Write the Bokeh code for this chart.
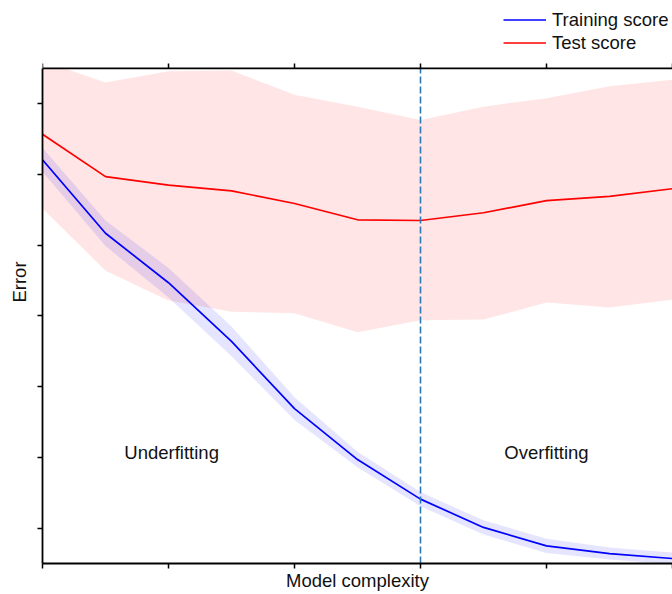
from bokeh.plotting import figure
from bokeh.models import Range1d, FixedTicker, Legend, LegendItem
from bokeh.core.properties import value
from bokeh.embed import file_html
from bokeh.resources import INLINE

# ---- data ----
complexity = [0, 1, 2, 3, 4, 5, 6, 7, 8, 9, 10]

test_score = [6.07, 5.47, 5.35, 5.27, 5.09, 4.86, 4.85, 4.96, 5.13, 5.19, 5.30]
test_upper = [7.11, 6.80, 6.96, 6.97, 6.63, 6.46, 6.27, 6.46, 6.58, 6.75, 6.84]
test_lower = [5.02, 4.14, 3.72, 3.56, 3.54, 3.27, 3.44, 3.45, 3.69, 3.62, 3.73]

train_score = [5.71, 4.67, 3.97, 3.14, 2.19, 1.47, 0.91, 0.51, 0.25, 0.14, 0.07]
train_upper = [5.88, 4.85, 4.18, 3.35, 2.35, 1.58, 1.01, 0.61, 0.35, 0.225, 0.155]
train_lower = [5.54, 4.49, 3.76, 2.93, 2.03, 1.36, 0.81, 0.41, 0.15, 0.055, -0.01]

split_at = 6
region_labels = ["Underfitting", "Overfitting"]
region_x = [2.05, 8.0]
region_y = [1.57, 1.57]

x_min, x_max = 0, 10
y_min, y_max = 0, 7
x_ticks = [0, 2, 4, 6, 8, 10]
y_ticks = [0.5, 1.5, 2.5, 3.5, 4.5, 5.5, 6.5]

FONT = "Liberation Sans"
FS = "18.5px"
Y_VIEW_TOP = 7.961   # extra room above the axes box for the legend
TOP_TICK = 0.071     # length of the top ticks in data units (~5px)

p = figure(width=672, height=594,
           x_range=Range1d(x_min, x_max), y_range=Range1d(y_min, Y_VIEW_TOP),
           output_backend="svg", toolbar_location=None,
           min_border_left=42, min_border_right=0,
           min_border_top=0, min_border_bottom=31)
p.outline_line_color = None
p.xgrid.visible = False
p.ygrid.visible = False
p.background_fill_color = "white"
p.border_fill_color = "white"

bottom_axis = p.below[0]
left_axis = p.left[0]

# bands
p.varea(x=complexity, y1=test_lower, y2=test_upper, fill_color="red", fill_alpha=0.1)
p.varea(x=complexity, y1=train_lower, y2=train_upper, fill_color="blue", fill_alpha=0.1)

# white area above the axes box (hides band parts above the top axis)
p.quad(left=[x_min], right=[x_max], bottom=[y_max], top=[Y_VIEW_TOP],
       fill_color="white", line_color=None)

# lines
r_train = p.line(complexity, train_score, line_color="blue", line_width=1.7)
r_test = p.line(complexity, test_score, line_color="red", line_width=1.7)

# split line
p.segment(x0=[split_at], y0=[y_min], x1=[split_at], y1=[y_max],
          line_color="#2a7ab9", line_width=1.6, line_dash="7 3")

# top axis line and ticks
p.segment(x0=[x_min], y0=[y_max], x1=[x_max], y1=[y_max],
          line_color="black", line_width=1.8)
p.segment(x0=x_ticks, y0=[y_max] * len(x_ticks), x1=x_ticks,
          y1=[y_max + TOP_TICK] * len(x_ticks), line_color="black", line_width=1.5)

p.text(x=region_x, y=region_y, text=region_labels, text_font=value(FONT),
       text_font_size=FS, text_align="center", text_baseline="middle",
       text_color="#111111")

for ax, ticks in ((bottom_axis, x_ticks), (left_axis, y_ticks)):
    ax.ticker = FixedTicker(ticks=ticks)
    ax.minor_tick_line_color = None
    ax.major_tick_in = 0
    ax.major_tick_out = 5
    ax.major_tick_line_width = 1.5
    ax.major_tick_line_color = "black"
    ax.axis_line_width = 1.8
    ax.axis_line_color = "black"
    ax.major_label_text_color = None
    ax.major_label_text_font_size = "1px"
    ax.major_label_standoff = 0
    ax.axis_label_text_font = FONT
    ax.axis_label_text_font_size = FS
    ax.axis_label_text_font_style = "normal"
    ax.axis_label_text_color = "#111111"

left_axis.bounds = (y_min, y_max)
bottom_axis.axis_label = "Model complexity"
left_axis.axis_label = "Error"
bottom_axis.axis_label_standoff = 1
left_axis.axis_label_standoff = 8

legend = Legend(items=[LegendItem(label="Training score", renderers=[r_train]),
                       LegendItem(label="Test score", renderers=[r_test])],
                location=(461, 509))
legend.label_text_font = FONT
legend.label_text_font_size = FS
legend.label_text_color = "#111111"
legend.glyph_width = 43
legend.glyph_height = 23
legend.label_height = 23
legend.label_standoff = 6
legend.spacing = 0
legend.padding = 0
legend.margin = 0
legend.border_line_color = None
legend.background_fill_alpha = 0
p.add_layout(legend)

open("out.html", "w").write(file_html(p, INLINE))
